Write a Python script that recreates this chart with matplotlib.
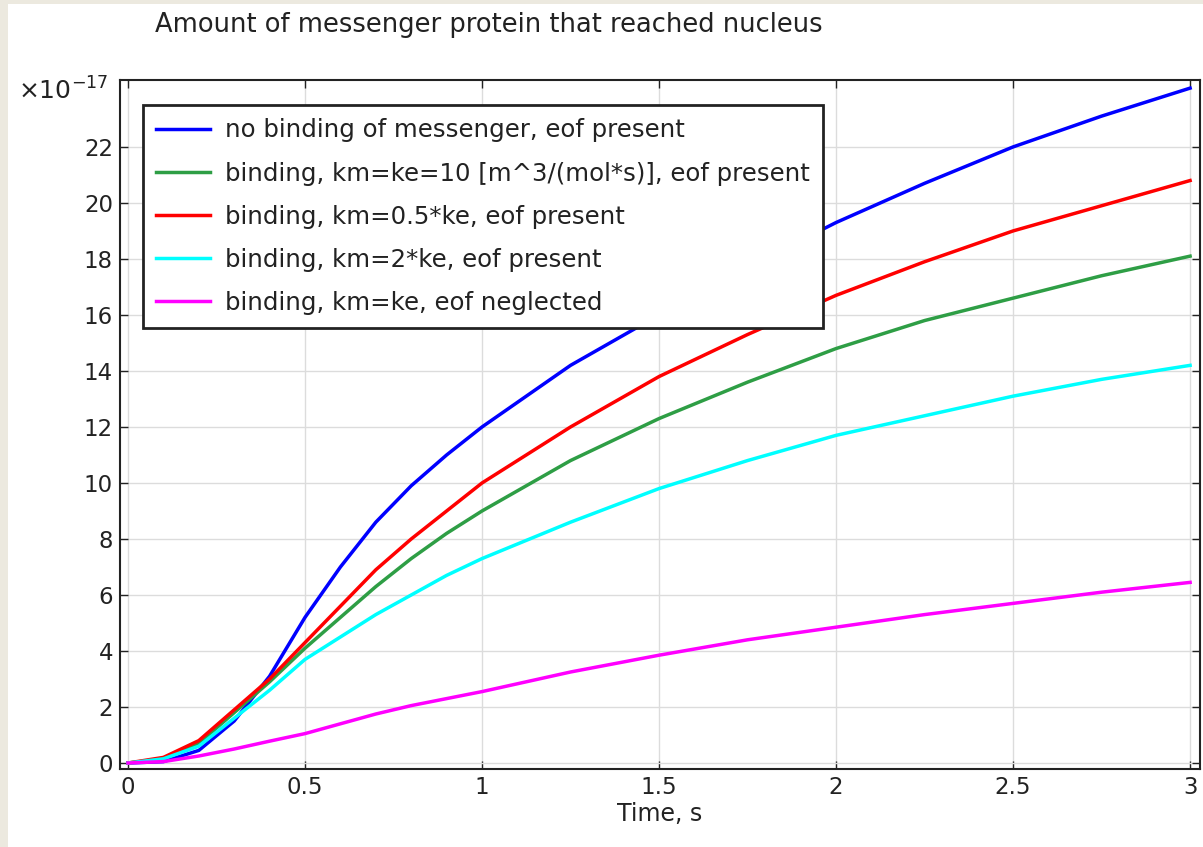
import matplotlib
matplotlib.use("Agg")
import matplotlib.pyplot as plt
from matplotlib.patches import Rectangle

# time points (s)
t = [0, 0.1, 0.2, 0.3, 0.4, 0.5, 0.6, 0.7, 0.8, 0.9, 1.0,
     1.25, 1.5, 1.75, 2.0, 2.25, 2.5, 2.75, 3.0]

# amounts, units of 1e-17
no_binding = [0, 0.05, 0.45, 1.5, 3.1, 5.2, 7.0, 8.6, 9.9, 11.0, 12.0,
              14.2, 16.0, 17.7, 19.3, 20.7, 22.0, 23.1, 24.1]
km_eq_ke = [0, 0.15, 0.7, 1.8, 2.9, 4.1, 5.2, 6.3, 7.3, 8.2, 9.0,
            10.8, 12.3, 13.6, 14.8, 15.8, 16.6, 17.4, 18.1]
km_half = [0, 0.2, 0.8, 1.9, 3.0, 4.3, 5.6, 6.9, 8.0, 9.0, 10.0,
           12.0, 13.8, 15.3, 16.7, 17.9, 19.0, 19.9, 20.8]
km_double = [0, 0.15, 0.6, 1.6, 2.6, 3.7, 4.5, 5.3, 6.0, 6.7, 7.3,
             8.6, 9.8, 10.8, 11.7, 12.4, 13.1, 13.7, 14.2]
eof_neglected = [0, 0.05, 0.25, 0.5, 0.78, 1.05, 1.4, 1.75, 2.05, 2.3, 2.55,
                 3.25, 3.85, 4.4, 4.85, 5.3, 5.7, 6.1, 6.45]

labels = [
    "no binding of messenger, eof present",
    "binding, km=ke=10 [m^3/(mol*s)], eof present",
    "binding, km=0.5*ke, eof present",
    "binding, km=2*ke, eof present",
    "binding, km=ke, eof neglected",
]
series = [no_binding, km_eq_ke, km_half, km_double, eof_neglected]
colors = ["#0000ff", "#2e9e45", "#ff0000", "#00ffff", "#ff00ff"]

fig = plt.figure(figsize=(12.03, 8.47), dpi=100, facecolor="#ece9df")
fig.patches.append(Rectangle((8 / 1203, 0), 1, 843 / 847, transform=fig.transFigure,
                             facecolor="white", edgecolor="none", zorder=-10))

ax = fig.add_axes([120 / 1203, 78 / 847, 1080 / 1203, 689 / 847])
for y, c, lab in zip(series, colors, labels):
    ax.plot(t, y, color=c, lw=2.5, label=lab)

ax.set_xlim(-0.0226, 3.028)
ax.set_ylim(-0.214, 24.39)
ax.set_xticks([0, 0.5, 1, 1.5, 2, 2.5, 3])
ax.set_xticklabels(["0", "0.5", "1", "1.5", "2", "2.5", "3"])
ax.set_yticks(range(0, 24, 2))
ax.grid(True, color="#dcdcdc", lw=1)
ax.set_axisbelow(True)
ax.tick_params(direction="in", top=True, right=True, length=6, width=1,
               labelsize=16.5, colors="#222222", pad=5)
for s in ax.spines.values():
    s.set_linewidth(1.5)
    s.set_color("#222222")

ax.set_xlabel("Time, s", fontsize=17, color="#222222", labelpad=2)

leg = ax.legend(loc="upper left", bbox_to_anchor=(0.0213, 0.9637), borderaxespad=0,
                fontsize=17.6, fancybox=False, framealpha=1, edgecolor="#222222",
                handlelength=2.2, handletextpad=0.6, labelspacing=0.78, borderpad=0.55)
leg.get_frame().set_linewidth(2)
for txt in leg.get_texts():
    txt.set_color("#222222")

fig.text(489 / 1203, 1 - 25 / 847, "Amount of messenger protein that reached nucleus",
         ha="center", va="center", fontsize=18.5, color="#222222")
fig.text(18 / 1203, 1 - 100 / 847, r"$\times$10$^{-17}$", ha="left", va="baseline",
         fontsize=18, color="#222222")

fig.savefig("out.png", dpi=100, facecolor=fig.get_facecolor())
